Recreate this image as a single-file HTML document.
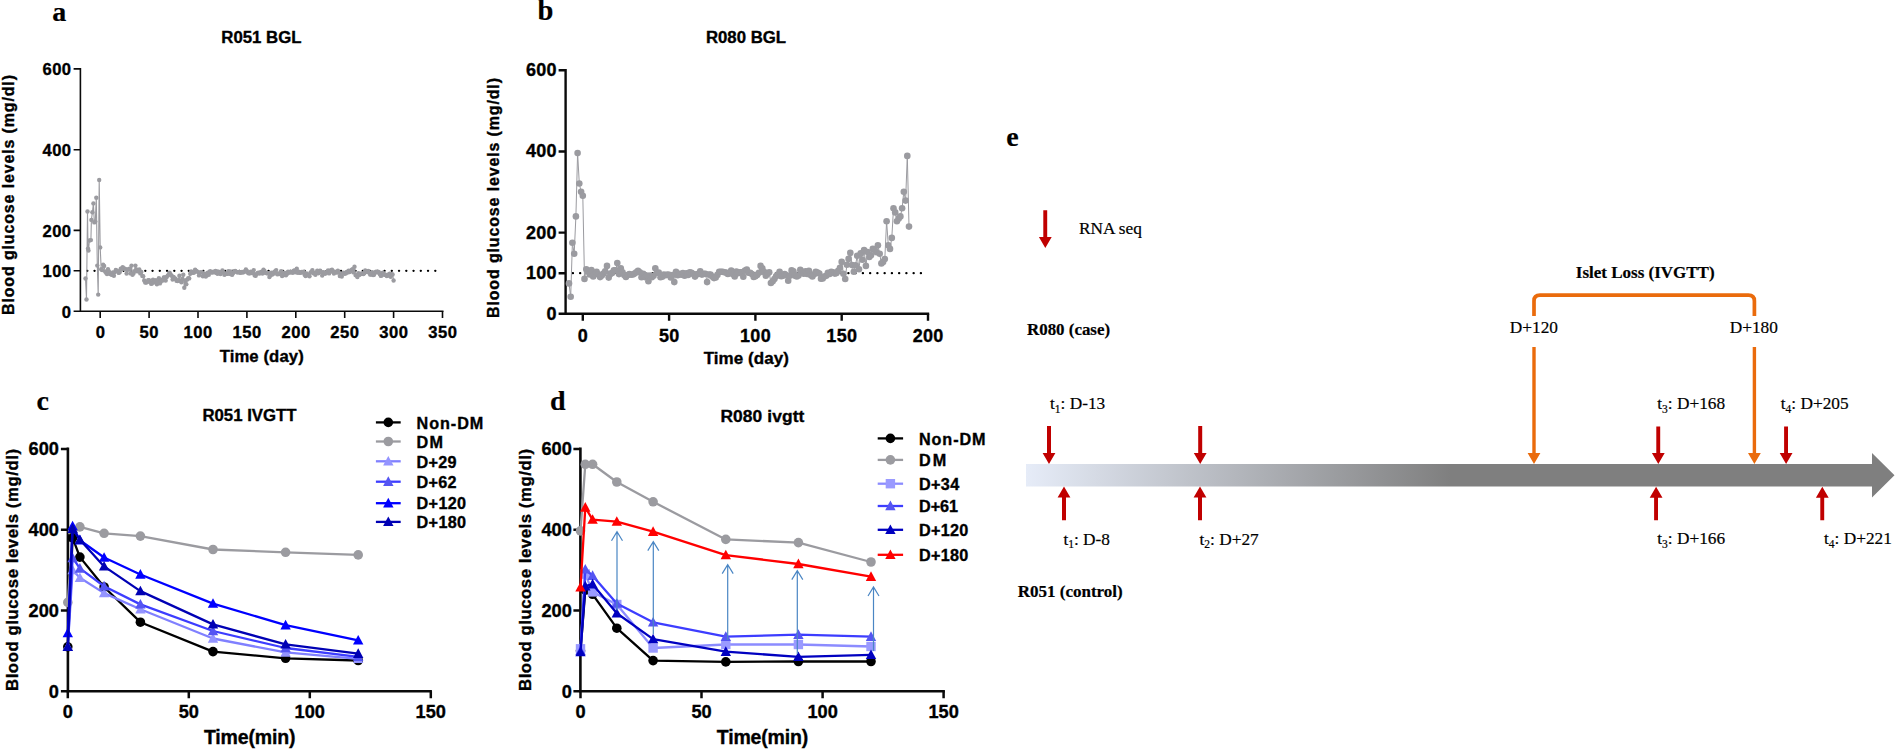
<!DOCTYPE html>
<html><head><meta charset="utf-8"><title>Figure</title>
<style>html,body{margin:0;padding:0;background:#fff}svg{display:block}text{fill:#000}</style></head>
<body><svg width="1895" height="749" viewBox="0 0 1895 749">
<rect width="1895" height="749" fill="#fff"/>
<text x="52.2" y="21.0" font-size="28" text-anchor="start" font-family="Liberation Serif, Times New Roman, serif" stroke="#000" stroke-width="0.2" font-weight="bold" >a</text>
<text x="261.4" y="43.2" font-size="16.8" text-anchor="middle" font-family="Liberation Sans, Arial, sans-serif" font-weight="bold" stroke="#000" stroke-width="0.35" >R051 BGL</text>
<path d="M80.4 68.1V312.0M79.6 311.2H443.5" stroke="#0a0a0a" stroke-width="1.6" fill="none"/>
<path d="M100.2 311.2v6.8M149.1 311.2v6.8M198.0 311.2v6.8M246.9 311.2v6.8M295.8 311.2v6.8M344.7 311.2v6.8M393.6 311.2v6.8M442.5 311.2v6.8M80.4 311.2h-6.8M80.4 270.8h-6.8M80.4 230.4h-6.8M80.4 149.7h-6.8M80.4 68.9h-6.8" stroke="#0a0a0a" stroke-width="1.6" fill="none"/>
<text x="100.5" y="337.8" font-size="16.6" text-anchor="middle" font-family="Liberation Sans, Arial, sans-serif" font-weight="bold" stroke="#000" stroke-width="0.35" letter-spacing="0.5">0</text>
<text x="149.3" y="337.8" font-size="16.6" text-anchor="middle" font-family="Liberation Sans, Arial, sans-serif" font-weight="bold" stroke="#000" stroke-width="0.35" letter-spacing="0.5">50</text>
<text x="198.2" y="337.8" font-size="16.6" text-anchor="middle" font-family="Liberation Sans, Arial, sans-serif" font-weight="bold" stroke="#000" stroke-width="0.35" letter-spacing="0.5">100</text>
<text x="247.1" y="337.8" font-size="16.6" text-anchor="middle" font-family="Liberation Sans, Arial, sans-serif" font-weight="bold" stroke="#000" stroke-width="0.35" letter-spacing="0.5">150</text>
<text x="296.1" y="337.8" font-size="16.6" text-anchor="middle" font-family="Liberation Sans, Arial, sans-serif" font-weight="bold" stroke="#000" stroke-width="0.35" letter-spacing="0.5">200</text>
<text x="344.9" y="337.8" font-size="16.6" text-anchor="middle" font-family="Liberation Sans, Arial, sans-serif" font-weight="bold" stroke="#000" stroke-width="0.35" letter-spacing="0.5">250</text>
<text x="393.8" y="337.8" font-size="16.6" text-anchor="middle" font-family="Liberation Sans, Arial, sans-serif" font-weight="bold" stroke="#000" stroke-width="0.35" letter-spacing="0.5">300</text>
<text x="442.8" y="337.8" font-size="16.6" text-anchor="middle" font-family="Liberation Sans, Arial, sans-serif" font-weight="bold" stroke="#000" stroke-width="0.35" letter-spacing="0.5">350</text>
<text x="71.6" y="317.5" font-size="16.6" text-anchor="end" font-family="Liberation Sans, Arial, sans-serif" font-weight="bold" stroke="#000" stroke-width="0.35" letter-spacing="0.5">0</text>
<text x="71.6" y="277.1" font-size="16.6" text-anchor="end" font-family="Liberation Sans, Arial, sans-serif" font-weight="bold" stroke="#000" stroke-width="0.35" letter-spacing="0.5">100</text>
<text x="71.6" y="236.7" font-size="16.6" text-anchor="end" font-family="Liberation Sans, Arial, sans-serif" font-weight="bold" stroke="#000" stroke-width="0.35" letter-spacing="0.5">200</text>
<text x="71.6" y="156.0" font-size="16.6" text-anchor="end" font-family="Liberation Sans, Arial, sans-serif" font-weight="bold" stroke="#000" stroke-width="0.35" letter-spacing="0.5">400</text>
<text x="71.6" y="75.2" font-size="16.6" text-anchor="end" font-family="Liberation Sans, Arial, sans-serif" font-weight="bold" stroke="#000" stroke-width="0.35" letter-spacing="0.5">600</text>
<text transform="translate(14.0,195.0) rotate(-90)" font-size="16" text-anchor="middle" font-family="Liberation Sans, Arial, sans-serif" font-weight="bold" stroke="#000" stroke-width="0.35" textLength="240" lengthAdjust="spacing">Blood glucose levels (mg/dl)</text>
<text x="261.7" y="361.7" font-size="16.7" text-anchor="middle" font-family="Liberation Sans, Arial, sans-serif" font-weight="bold" stroke="#000" stroke-width="0.35" textLength="84" lengthAdjust="spacing" >Time (day)</text>
<line x1="87.2" y1="270.8" x2="438.5" y2="270.8" stroke="#000" stroke-width="2.2" stroke-linecap="round" stroke-dasharray="0.2 7.05"/>
<polyline points="85.5,278.5 86.5,299.5 87.5,211.5 88.0,248.6 88.5,250.6 89.4,240.5 90.9,240.1 91.4,219.9 92.4,212.3 93.4,203.4 94.3,222.4 95.3,221.6 96.3,197.7 97.3,265.6 98.2,294.6 99.2,180.0 100.2,247.4 101.2,269.2 102.2,270.0 103.1,264.8 104.1,266.0 105.1,271.6 106.1,272.8 107.0,274.1 108.0,269.2 109.0,271.6 110.0,274.1 111.0,273.6 111.9,274.9 112.9,272.4 113.9,275.7 114.9,272.1 115.8,270.0 116.8,270.7 117.8,271.3 118.8,272.9 119.8,272.0 120.7,268.7 121.7,268.7 122.7,267.3 123.7,268.5 124.7,268.7 125.6,269.2 126.6,273.6 127.6,269.9 128.6,269.1 129.5,268.7 130.5,273.4 131.5,265.6 132.5,274.7 133.5,273.4 134.4,271.1 135.4,265.6 136.4,269.4 137.4,271.4 138.3,270.2 139.3,269.4 140.3,273.4 141.3,272.0 142.3,275.9 143.2,276.2 144.2,280.4 145.2,282.5 146.2,282.6 147.1,282.1 148.1,280.3 149.1,280.3 150.1,281.9 151.1,283.7 152.0,283.5 153.0,279.6 154.0,282.3 155.0,281.2 155.9,280.3 156.9,284.2 157.9,282.2 158.9,278.1 159.9,283.4 160.8,281.6 161.8,280.0 162.8,280.6 163.8,277.5 164.7,277.5 165.7,280.6 166.7,277.0 167.7,275.6 168.7,274.4 169.6,272.8 170.6,274.5 171.6,275.7 172.6,279.5 173.6,276.9 174.5,278.5 175.5,278.8 176.5,280.8 177.5,281.0 178.4,280.1 179.4,275.7 180.4,281.1 181.4,282.2 182.4,279.0 183.3,274.8 184.3,287.8 185.3,280.4 186.3,284.3 187.2,279.6 188.2,278.2 189.2,278.4 190.2,273.8 191.2,271.5 192.1,272.6 193.1,272.8 194.1,272.5 195.1,269.8 196.0,270.8 197.0,271.4 198.0,272.1 199.0,275.4 200.0,272.8 200.9,272.1 201.9,272.4 202.9,276.2 203.9,275.9 204.8,273.7 205.8,276.5 206.8,275.4 207.8,272.6 208.8,274.8 209.7,271.5 210.7,271.5 211.7,272.6 212.7,272.4 213.6,271.8 214.6,272.3 215.6,271.0 216.6,273.1 217.6,273.7 218.5,271.8 219.5,272.4 220.5,274.1 221.5,272.1 222.4,270.5 223.4,272.5 224.4,274.8 225.4,274.0 226.4,273.7 227.3,273.8 228.3,271.3 229.3,273.8 230.3,271.5 231.3,274.2 232.2,274.7 233.2,272.9 234.2,271.3 235.2,271.0 236.1,271.6 237.1,272.2 238.1,272.4 239.1,271.9 240.1,272.8 241.0,272.5 242.0,272.0 243.0,272.6 244.0,271.7 244.9,271.6 245.9,269.5 246.9,271.0 247.9,272.7 248.9,273.4 249.8,273.2 250.8,271.8 251.8,273.0 252.8,272.4 253.7,270.1 254.7,275.4 255.7,275.8 256.7,273.9 257.7,272.9 258.6,272.6 259.6,273.5 260.6,272.3 261.6,272.3 262.5,273.5 263.5,269.7 264.5,271.0 265.5,272.9 266.5,273.1 267.4,273.4 268.4,273.3 269.4,277.1 270.4,275.6 271.4,272.7 272.3,274.6 273.3,273.8 274.3,272.0 275.3,271.3 276.2,270.1 277.2,274.2 278.2,274.1 279.2,274.0 280.2,272.6 281.1,271.2 282.1,276.1 283.1,272.8 284.1,275.1 285.0,273.0 286.0,275.2 287.0,273.7 288.0,271.6 289.0,272.6 289.9,272.6 290.9,271.7 291.9,272.2 292.9,272.8 293.8,270.7 294.8,270.5 295.8,272.3 296.8,268.7 297.8,272.8 298.7,271.6 299.7,272.8 300.7,272.7 301.7,271.9 302.6,272.2 303.6,271.7 304.6,274.7 305.6,276.0 306.6,273.5 307.5,274.6 308.5,275.2 309.5,276.2 310.5,272.6 311.4,271.8 312.4,270.3 313.4,273.2 314.4,273.1 315.4,274.7 316.3,272.7 317.3,270.6 318.3,273.2 319.3,270.9 320.2,270.6 321.2,272.2 322.2,275.5 323.2,272.1 324.2,272.8 325.1,273.8 326.1,272.8 327.1,272.3 328.1,270.5 329.1,273.4 330.0,271.6 331.0,270.2 332.0,269.7 333.0,271.8 333.9,273.6 334.9,271.8 335.9,272.3 336.9,272.5 337.9,270.7 338.8,272.4 339.8,276.1 340.8,275.0 341.8,276.6 342.7,273.5 343.7,272.8 344.7,273.8 345.7,273.4 346.7,272.0 347.6,272.5 348.6,270.8 349.6,272.1 350.6,271.1 351.5,270.0 352.5,269.3 353.5,272.4 354.5,266.8 355.5,275.1 356.4,275.5 357.4,277.0 358.4,273.3 359.4,274.9 360.3,273.9 361.3,273.7 362.3,273.4 363.3,274.1 364.3,273.2 365.2,270.5 366.2,271.8 367.2,271.7 368.2,271.0 369.1,272.4 370.1,274.6 371.1,274.5 372.1,272.2 373.1,275.0 374.0,274.8 375.0,272.4 376.0,271.6 377.0,272.4 378.0,271.6 378.9,272.1 379.9,274.3 380.9,275.9 381.9,275.3 382.8,272.7 383.8,273.7 384.8,274.7 385.8,274.9 386.8,276.1 387.7,274.6 388.7,275.5 389.7,273.6 390.7,276.7 391.6,274.2 392.6,274.5 393.6,280.5" fill="none" stroke="#9b9ba0" stroke-width="1.1"/>
<g fill="#9b9ba0"><circle cx="85.5" cy="278.5" r="2.2"/><circle cx="86.5" cy="299.5" r="2.2"/><circle cx="87.5" cy="211.5" r="2.2"/><circle cx="88.0" cy="248.6" r="2.2"/><circle cx="88.5" cy="250.6" r="2.2"/><circle cx="89.4" cy="240.5" r="2.2"/><circle cx="90.9" cy="240.1" r="2.2"/><circle cx="91.4" cy="219.9" r="2.2"/><circle cx="92.4" cy="212.3" r="2.2"/><circle cx="93.4" cy="203.4" r="2.2"/><circle cx="94.3" cy="222.4" r="2.2"/><circle cx="95.3" cy="221.6" r="2.2"/><circle cx="96.3" cy="197.7" r="2.2"/><circle cx="97.3" cy="265.6" r="2.2"/><circle cx="98.2" cy="294.6" r="2.2"/><circle cx="99.2" cy="180.0" r="2.2"/><circle cx="100.2" cy="247.4" r="2.2"/><circle cx="101.2" cy="269.2" r="2.2"/><circle cx="102.2" cy="270.0" r="2.2"/><circle cx="103.1" cy="264.8" r="2.2"/><circle cx="104.1" cy="266.0" r="2.2"/><circle cx="105.1" cy="271.6" r="2.2"/><circle cx="106.1" cy="272.8" r="2.2"/><circle cx="107.0" cy="274.1" r="2.2"/><circle cx="108.0" cy="269.2" r="2.2"/><circle cx="109.0" cy="271.6" r="2.2"/><circle cx="110.0" cy="274.1" r="2.2"/><circle cx="111.0" cy="273.6" r="2.2"/><circle cx="111.9" cy="274.9" r="2.2"/><circle cx="112.9" cy="272.4" r="2.2"/><circle cx="113.9" cy="275.7" r="2.2"/><circle cx="114.9" cy="272.1" r="2.2"/><circle cx="115.8" cy="270.0" r="2.2"/><circle cx="116.8" cy="270.7" r="2.2"/><circle cx="117.8" cy="271.3" r="2.2"/><circle cx="118.8" cy="272.9" r="2.2"/><circle cx="119.8" cy="272.0" r="2.2"/><circle cx="120.7" cy="268.7" r="2.2"/><circle cx="121.7" cy="268.7" r="2.2"/><circle cx="122.7" cy="267.3" r="2.2"/><circle cx="123.7" cy="268.5" r="2.2"/><circle cx="124.7" cy="268.7" r="2.2"/><circle cx="125.6" cy="269.2" r="2.2"/><circle cx="126.6" cy="273.6" r="2.2"/><circle cx="127.6" cy="269.9" r="2.2"/><circle cx="128.6" cy="269.1" r="2.2"/><circle cx="129.5" cy="268.7" r="2.2"/><circle cx="130.5" cy="273.4" r="2.2"/><circle cx="131.5" cy="265.6" r="2.2"/><circle cx="132.5" cy="274.7" r="2.2"/><circle cx="133.5" cy="273.4" r="2.2"/><circle cx="134.4" cy="271.1" r="2.2"/><circle cx="135.4" cy="265.6" r="2.2"/><circle cx="136.4" cy="269.4" r="2.2"/><circle cx="137.4" cy="271.4" r="2.2"/><circle cx="138.3" cy="270.2" r="2.2"/><circle cx="139.3" cy="269.4" r="2.2"/><circle cx="140.3" cy="273.4" r="2.2"/><circle cx="141.3" cy="272.0" r="2.2"/><circle cx="142.3" cy="275.9" r="2.2"/><circle cx="143.2" cy="276.2" r="2.2"/><circle cx="144.2" cy="280.4" r="2.2"/><circle cx="145.2" cy="282.5" r="2.2"/><circle cx="146.2" cy="282.6" r="2.2"/><circle cx="147.1" cy="282.1" r="2.2"/><circle cx="148.1" cy="280.3" r="2.2"/><circle cx="149.1" cy="280.3" r="2.2"/><circle cx="150.1" cy="281.9" r="2.2"/><circle cx="151.1" cy="283.7" r="2.2"/><circle cx="152.0" cy="283.5" r="2.2"/><circle cx="153.0" cy="279.6" r="2.2"/><circle cx="154.0" cy="282.3" r="2.2"/><circle cx="155.0" cy="281.2" r="2.2"/><circle cx="155.9" cy="280.3" r="2.2"/><circle cx="156.9" cy="284.2" r="2.2"/><circle cx="157.9" cy="282.2" r="2.2"/><circle cx="158.9" cy="278.1" r="2.2"/><circle cx="159.9" cy="283.4" r="2.2"/><circle cx="160.8" cy="281.6" r="2.2"/><circle cx="161.8" cy="280.0" r="2.2"/><circle cx="162.8" cy="280.6" r="2.2"/><circle cx="163.8" cy="277.5" r="2.2"/><circle cx="164.7" cy="277.5" r="2.2"/><circle cx="165.7" cy="280.6" r="2.2"/><circle cx="166.7" cy="277.0" r="2.2"/><circle cx="167.7" cy="275.6" r="2.2"/><circle cx="168.7" cy="274.4" r="2.2"/><circle cx="169.6" cy="272.8" r="2.2"/><circle cx="170.6" cy="274.5" r="2.2"/><circle cx="171.6" cy="275.7" r="2.2"/><circle cx="172.6" cy="279.5" r="2.2"/><circle cx="173.6" cy="276.9" r="2.2"/><circle cx="174.5" cy="278.5" r="2.2"/><circle cx="175.5" cy="278.8" r="2.2"/><circle cx="176.5" cy="280.8" r="2.2"/><circle cx="177.5" cy="281.0" r="2.2"/><circle cx="178.4" cy="280.1" r="2.2"/><circle cx="179.4" cy="275.7" r="2.2"/><circle cx="180.4" cy="281.1" r="2.2"/><circle cx="181.4" cy="282.2" r="2.2"/><circle cx="182.4" cy="279.0" r="2.2"/><circle cx="183.3" cy="274.8" r="2.2"/><circle cx="184.3" cy="287.8" r="2.2"/><circle cx="185.3" cy="280.4" r="2.2"/><circle cx="186.3" cy="284.3" r="2.2"/><circle cx="187.2" cy="279.6" r="2.2"/><circle cx="188.2" cy="278.2" r="2.2"/><circle cx="189.2" cy="278.4" r="2.2"/><circle cx="190.2" cy="273.8" r="2.2"/><circle cx="191.2" cy="271.5" r="2.2"/><circle cx="192.1" cy="272.6" r="2.2"/><circle cx="193.1" cy="272.8" r="2.2"/><circle cx="194.1" cy="272.5" r="2.2"/><circle cx="195.1" cy="269.8" r="2.2"/><circle cx="196.0" cy="270.8" r="2.2"/><circle cx="197.0" cy="271.4" r="2.2"/><circle cx="198.0" cy="272.1" r="2.2"/><circle cx="199.0" cy="275.4" r="2.2"/><circle cx="200.0" cy="272.8" r="2.2"/><circle cx="200.9" cy="272.1" r="2.2"/><circle cx="201.9" cy="272.4" r="2.2"/><circle cx="202.9" cy="276.2" r="2.2"/><circle cx="203.9" cy="275.9" r="2.2"/><circle cx="204.8" cy="273.7" r="2.2"/><circle cx="205.8" cy="276.5" r="2.2"/><circle cx="206.8" cy="275.4" r="2.2"/><circle cx="207.8" cy="272.6" r="2.2"/><circle cx="208.8" cy="274.8" r="2.2"/><circle cx="209.7" cy="271.5" r="2.2"/><circle cx="210.7" cy="271.5" r="2.2"/><circle cx="211.7" cy="272.6" r="2.2"/><circle cx="212.7" cy="272.4" r="2.2"/><circle cx="213.6" cy="271.8" r="2.2"/><circle cx="214.6" cy="272.3" r="2.2"/><circle cx="215.6" cy="271.0" r="2.2"/><circle cx="216.6" cy="273.1" r="2.2"/><circle cx="217.6" cy="273.7" r="2.2"/><circle cx="218.5" cy="271.8" r="2.2"/><circle cx="219.5" cy="272.4" r="2.2"/><circle cx="220.5" cy="274.1" r="2.2"/><circle cx="221.5" cy="272.1" r="2.2"/><circle cx="222.4" cy="270.5" r="2.2"/><circle cx="223.4" cy="272.5" r="2.2"/><circle cx="224.4" cy="274.8" r="2.2"/><circle cx="225.4" cy="274.0" r="2.2"/><circle cx="226.4" cy="273.7" r="2.2"/><circle cx="227.3" cy="273.8" r="2.2"/><circle cx="228.3" cy="271.3" r="2.2"/><circle cx="229.3" cy="273.8" r="2.2"/><circle cx="230.3" cy="271.5" r="2.2"/><circle cx="231.3" cy="274.2" r="2.2"/><circle cx="232.2" cy="274.7" r="2.2"/><circle cx="233.2" cy="272.9" r="2.2"/><circle cx="234.2" cy="271.3" r="2.2"/><circle cx="235.2" cy="271.0" r="2.2"/><circle cx="236.1" cy="271.6" r="2.2"/><circle cx="237.1" cy="272.2" r="2.2"/><circle cx="238.1" cy="272.4" r="2.2"/><circle cx="239.1" cy="271.9" r="2.2"/><circle cx="240.1" cy="272.8" r="2.2"/><circle cx="241.0" cy="272.5" r="2.2"/><circle cx="242.0" cy="272.0" r="2.2"/><circle cx="243.0" cy="272.6" r="2.2"/><circle cx="244.0" cy="271.7" r="2.2"/><circle cx="244.9" cy="271.6" r="2.2"/><circle cx="245.9" cy="269.5" r="2.2"/><circle cx="246.9" cy="271.0" r="2.2"/><circle cx="247.9" cy="272.7" r="2.2"/><circle cx="248.9" cy="273.4" r="2.2"/><circle cx="249.8" cy="273.2" r="2.2"/><circle cx="250.8" cy="271.8" r="2.2"/><circle cx="251.8" cy="273.0" r="2.2"/><circle cx="252.8" cy="272.4" r="2.2"/><circle cx="253.7" cy="270.1" r="2.2"/><circle cx="254.7" cy="275.4" r="2.2"/><circle cx="255.7" cy="275.8" r="2.2"/><circle cx="256.7" cy="273.9" r="2.2"/><circle cx="257.7" cy="272.9" r="2.2"/><circle cx="258.6" cy="272.6" r="2.2"/><circle cx="259.6" cy="273.5" r="2.2"/><circle cx="260.6" cy="272.3" r="2.2"/><circle cx="261.6" cy="272.3" r="2.2"/><circle cx="262.5" cy="273.5" r="2.2"/><circle cx="263.5" cy="269.7" r="2.2"/><circle cx="264.5" cy="271.0" r="2.2"/><circle cx="265.5" cy="272.9" r="2.2"/><circle cx="266.5" cy="273.1" r="2.2"/><circle cx="267.4" cy="273.4" r="2.2"/><circle cx="268.4" cy="273.3" r="2.2"/><circle cx="269.4" cy="277.1" r="2.2"/><circle cx="270.4" cy="275.6" r="2.2"/><circle cx="271.4" cy="272.7" r="2.2"/><circle cx="272.3" cy="274.6" r="2.2"/><circle cx="273.3" cy="273.8" r="2.2"/><circle cx="274.3" cy="272.0" r="2.2"/><circle cx="275.3" cy="271.3" r="2.2"/><circle cx="276.2" cy="270.1" r="2.2"/><circle cx="277.2" cy="274.2" r="2.2"/><circle cx="278.2" cy="274.1" r="2.2"/><circle cx="279.2" cy="274.0" r="2.2"/><circle cx="280.2" cy="272.6" r="2.2"/><circle cx="281.1" cy="271.2" r="2.2"/><circle cx="282.1" cy="276.1" r="2.2"/><circle cx="283.1" cy="272.8" r="2.2"/><circle cx="284.1" cy="275.1" r="2.2"/><circle cx="285.0" cy="273.0" r="2.2"/><circle cx="286.0" cy="275.2" r="2.2"/><circle cx="287.0" cy="273.7" r="2.2"/><circle cx="288.0" cy="271.6" r="2.2"/><circle cx="289.0" cy="272.6" r="2.2"/><circle cx="289.9" cy="272.6" r="2.2"/><circle cx="290.9" cy="271.7" r="2.2"/><circle cx="291.9" cy="272.2" r="2.2"/><circle cx="292.9" cy="272.8" r="2.2"/><circle cx="293.8" cy="270.7" r="2.2"/><circle cx="294.8" cy="270.5" r="2.2"/><circle cx="295.8" cy="272.3" r="2.2"/><circle cx="296.8" cy="268.7" r="2.2"/><circle cx="297.8" cy="272.8" r="2.2"/><circle cx="298.7" cy="271.6" r="2.2"/><circle cx="299.7" cy="272.8" r="2.2"/><circle cx="300.7" cy="272.7" r="2.2"/><circle cx="301.7" cy="271.9" r="2.2"/><circle cx="302.6" cy="272.2" r="2.2"/><circle cx="303.6" cy="271.7" r="2.2"/><circle cx="304.6" cy="274.7" r="2.2"/><circle cx="305.6" cy="276.0" r="2.2"/><circle cx="306.6" cy="273.5" r="2.2"/><circle cx="307.5" cy="274.6" r="2.2"/><circle cx="308.5" cy="275.2" r="2.2"/><circle cx="309.5" cy="276.2" r="2.2"/><circle cx="310.5" cy="272.6" r="2.2"/><circle cx="311.4" cy="271.8" r="2.2"/><circle cx="312.4" cy="270.3" r="2.2"/><circle cx="313.4" cy="273.2" r="2.2"/><circle cx="314.4" cy="273.1" r="2.2"/><circle cx="315.4" cy="274.7" r="2.2"/><circle cx="316.3" cy="272.7" r="2.2"/><circle cx="317.3" cy="270.6" r="2.2"/><circle cx="318.3" cy="273.2" r="2.2"/><circle cx="319.3" cy="270.9" r="2.2"/><circle cx="320.2" cy="270.6" r="2.2"/><circle cx="321.2" cy="272.2" r="2.2"/><circle cx="322.2" cy="275.5" r="2.2"/><circle cx="323.2" cy="272.1" r="2.2"/><circle cx="324.2" cy="272.8" r="2.2"/><circle cx="325.1" cy="273.8" r="2.2"/><circle cx="326.1" cy="272.8" r="2.2"/><circle cx="327.1" cy="272.3" r="2.2"/><circle cx="328.1" cy="270.5" r="2.2"/><circle cx="329.1" cy="273.4" r="2.2"/><circle cx="330.0" cy="271.6" r="2.2"/><circle cx="331.0" cy="270.2" r="2.2"/><circle cx="332.0" cy="269.7" r="2.2"/><circle cx="333.0" cy="271.8" r="2.2"/><circle cx="333.9" cy="273.6" r="2.2"/><circle cx="334.9" cy="271.8" r="2.2"/><circle cx="335.9" cy="272.3" r="2.2"/><circle cx="336.9" cy="272.5" r="2.2"/><circle cx="337.9" cy="270.7" r="2.2"/><circle cx="338.8" cy="272.4" r="2.2"/><circle cx="339.8" cy="276.1" r="2.2"/><circle cx="340.8" cy="275.0" r="2.2"/><circle cx="341.8" cy="276.6" r="2.2"/><circle cx="342.7" cy="273.5" r="2.2"/><circle cx="343.7" cy="272.8" r="2.2"/><circle cx="344.7" cy="273.8" r="2.2"/><circle cx="345.7" cy="273.4" r="2.2"/><circle cx="346.7" cy="272.0" r="2.2"/><circle cx="347.6" cy="272.5" r="2.2"/><circle cx="348.6" cy="270.8" r="2.2"/><circle cx="349.6" cy="272.1" r="2.2"/><circle cx="350.6" cy="271.1" r="2.2"/><circle cx="351.5" cy="270.0" r="2.2"/><circle cx="352.5" cy="269.3" r="2.2"/><circle cx="353.5" cy="272.4" r="2.2"/><circle cx="354.5" cy="266.8" r="2.2"/><circle cx="355.5" cy="275.1" r="2.2"/><circle cx="356.4" cy="275.5" r="2.2"/><circle cx="357.4" cy="277.0" r="2.2"/><circle cx="358.4" cy="273.3" r="2.2"/><circle cx="359.4" cy="274.9" r="2.2"/><circle cx="360.3" cy="273.9" r="2.2"/><circle cx="361.3" cy="273.7" r="2.2"/><circle cx="362.3" cy="273.4" r="2.2"/><circle cx="363.3" cy="274.1" r="2.2"/><circle cx="364.3" cy="273.2" r="2.2"/><circle cx="365.2" cy="270.5" r="2.2"/><circle cx="366.2" cy="271.8" r="2.2"/><circle cx="367.2" cy="271.7" r="2.2"/><circle cx="368.2" cy="271.0" r="2.2"/><circle cx="369.1" cy="272.4" r="2.2"/><circle cx="370.1" cy="274.6" r="2.2"/><circle cx="371.1" cy="274.5" r="2.2"/><circle cx="372.1" cy="272.2" r="2.2"/><circle cx="373.1" cy="275.0" r="2.2"/><circle cx="374.0" cy="274.8" r="2.2"/><circle cx="375.0" cy="272.4" r="2.2"/><circle cx="376.0" cy="271.6" r="2.2"/><circle cx="377.0" cy="272.4" r="2.2"/><circle cx="378.0" cy="271.6" r="2.2"/><circle cx="378.9" cy="272.1" r="2.2"/><circle cx="379.9" cy="274.3" r="2.2"/><circle cx="380.9" cy="275.9" r="2.2"/><circle cx="381.9" cy="275.3" r="2.2"/><circle cx="382.8" cy="272.7" r="2.2"/><circle cx="383.8" cy="273.7" r="2.2"/><circle cx="384.8" cy="274.7" r="2.2"/><circle cx="385.8" cy="274.9" r="2.2"/><circle cx="386.8" cy="276.1" r="2.2"/><circle cx="387.7" cy="274.6" r="2.2"/><circle cx="388.7" cy="275.5" r="2.2"/><circle cx="389.7" cy="273.6" r="2.2"/><circle cx="390.7" cy="276.7" r="2.2"/><circle cx="391.6" cy="274.2" r="2.2"/><circle cx="392.6" cy="274.5" r="2.2"/><circle cx="393.6" cy="280.5" r="2.2"/></g>
<text x="537.5" y="20.2" font-size="28.5" text-anchor="start" font-family="Liberation Serif, Times New Roman, serif" stroke="#000" stroke-width="0.2" font-weight="bold" >b</text>
<text x="746.0" y="42.8" font-size="16.8" text-anchor="middle" font-family="Liberation Sans, Arial, sans-serif" font-weight="bold" stroke="#000" stroke-width="0.35" >R080 BGL</text>
<path d="M565.6 69.1V315.0M564.4 313.8H929.2" stroke="#0a0a0a" stroke-width="2.4" fill="none"/>
<path d="M582.8 313.8v7.0M669.1 313.8v7.0M755.4 313.8v7.0M841.7 313.8v7.0M928.0 313.8v7.0M565.6 313.8h-7.0M565.6 273.2h-7.0M565.6 232.6h-7.0M565.6 151.5h-7.0M565.6 70.3h-7.0" stroke="#0a0a0a" stroke-width="2.4" fill="none"/>
<text x="582.9" y="341.7" font-size="18" text-anchor="middle" font-family="Liberation Sans, Arial, sans-serif" font-weight="bold" stroke="#000" stroke-width="0.35" letter-spacing="0.3">0</text>
<text x="669.2" y="341.7" font-size="18" text-anchor="middle" font-family="Liberation Sans, Arial, sans-serif" font-weight="bold" stroke="#000" stroke-width="0.35" letter-spacing="0.3">50</text>
<text x="755.5" y="341.7" font-size="18" text-anchor="middle" font-family="Liberation Sans, Arial, sans-serif" font-weight="bold" stroke="#000" stroke-width="0.35" letter-spacing="0.3">100</text>
<text x="841.8" y="341.7" font-size="18" text-anchor="middle" font-family="Liberation Sans, Arial, sans-serif" font-weight="bold" stroke="#000" stroke-width="0.35" letter-spacing="0.3">150</text>
<text x="928.1" y="341.7" font-size="18" text-anchor="middle" font-family="Liberation Sans, Arial, sans-serif" font-weight="bold" stroke="#000" stroke-width="0.35" letter-spacing="0.3">200</text>
<text x="556.9" y="319.7" font-size="18" text-anchor="end" font-family="Liberation Sans, Arial, sans-serif" font-weight="bold" stroke="#000" stroke-width="0.35" letter-spacing="0.3">0</text>
<text x="556.9" y="279.1" font-size="18" text-anchor="end" font-family="Liberation Sans, Arial, sans-serif" font-weight="bold" stroke="#000" stroke-width="0.35" letter-spacing="0.3">100</text>
<text x="556.9" y="238.5" font-size="18" text-anchor="end" font-family="Liberation Sans, Arial, sans-serif" font-weight="bold" stroke="#000" stroke-width="0.35" letter-spacing="0.3">200</text>
<text x="556.9" y="157.4" font-size="18" text-anchor="end" font-family="Liberation Sans, Arial, sans-serif" font-weight="bold" stroke="#000" stroke-width="0.35" letter-spacing="0.3">400</text>
<text x="556.9" y="76.2" font-size="18" text-anchor="end" font-family="Liberation Sans, Arial, sans-serif" font-weight="bold" stroke="#000" stroke-width="0.35" letter-spacing="0.3">600</text>
<text transform="translate(498.5,198.0) rotate(-90)" font-size="16" text-anchor="middle" font-family="Liberation Sans, Arial, sans-serif" font-weight="bold" stroke="#000" stroke-width="0.35" textLength="240" lengthAdjust="spacing">Blood glucose levels (mg/dl)</text>
<text x="746.3" y="364.4" font-size="17" text-anchor="middle" font-family="Liberation Sans, Arial, sans-serif" font-weight="bold" stroke="#000" stroke-width="0.35" textLength="85.3" lengthAdjust="spacing" >Time (day)</text>
<line x1="572.8" y1="273.2" x2="923.5" y2="273.2" stroke="#000" stroke-width="2.2" stroke-linecap="round" stroke-dasharray="0.2 7.05"/>
<polyline points="569.0,283.4 570.7,296.8 572.4,242.8 574.2,253.7 575.9,216.4 577.6,153.1 579.3,183.5 581.1,191.7 582.8,195.7 584.5,278.9 586.3,269.2 588.0,271.6 589.7,274.4 591.4,270.0 593.2,276.4 594.9,274.2 596.6,271.9 598.3,274.3 600.1,277.1 601.8,275.4 603.5,273.5 605.2,271.4 607.0,265.9 608.7,277.6 610.4,273.9 612.1,272.9 613.9,270.2 615.6,270.3 617.3,263.1 619.0,274.1 620.8,268.3 622.5,272.4 624.2,275.1 625.9,277.0 627.7,275.0 629.4,274.1 631.1,274.8 632.9,274.5 634.6,273.6 636.3,272.3 638.0,270.9 639.8,272.3 641.5,277.3 643.2,273.8 644.9,277.1 646.7,275.6 648.4,281.3 650.1,275.6 651.8,277.2 653.6,275.7 655.3,268.2 657.0,272.7 658.7,272.5 660.5,277.2 662.2,276.8 663.9,274.5 665.6,275.3 667.4,274.6 669.1,274.9 670.8,277.5 672.6,275.0 674.3,282.1 676.0,271.9 677.7,275.2 679.5,273.8 681.2,274.8 682.9,273.1 684.6,275.8 686.4,273.4 688.1,274.9 689.8,272.4 691.5,272.8 693.3,274.1 695.0,276.6 696.7,274.2 698.4,273.9 700.2,271.2 701.9,274.6 703.6,273.9 705.3,273.7 707.1,282.1 708.8,274.5 710.5,274.6 712.2,276.5 714.0,278.1 715.7,277.4 717.4,274.9 719.2,271.9 720.9,271.8 722.6,271.7 724.3,272.2 726.1,272.6 727.8,273.9 729.5,273.1 731.2,270.6 733.0,274.2 734.7,276.5 736.4,271.5 738.1,273.3 739.9,272.4 741.6,272.3 743.3,276.7 745.0,270.5 746.8,269.5 748.5,272.7 750.2,272.7 751.9,274.1 753.7,276.9 755.4,276.3 757.1,274.9 758.9,272.8 760.6,265.9 762.3,268.4 764.0,271.9 765.8,275.7 767.5,273.8 769.2,272.3 770.9,283.0 772.7,281.3 774.4,279.0 776.1,276.3 777.8,274.6 779.6,271.7 781.3,276.2 783.0,275.7 784.7,274.1 786.5,275.3 788.2,280.7 789.9,275.7 791.6,270.4 793.4,271.2 795.1,275.8 796.8,276.5 798.5,275.4 800.3,269.9 802.0,271.8 803.7,273.8 805.5,271.3 807.2,274.0 808.9,270.7 810.6,275.1 812.4,276.4 814.1,274.2 815.8,271.8 817.5,272.5 819.3,273.6 821.0,278.8 822.7,278.4 824.4,276.6 826.2,275.8 827.9,272.9 829.6,273.9 831.3,271.7 833.1,272.4 834.8,273.6 836.5,273.1 838.2,270.9 840.0,267.8 841.7,261.9 843.4,273.8 845.2,279.0 846.9,264.7 848.6,258.9 850.3,252.9 852.1,265.1 853.8,271.8 855.5,265.3 857.2,255.8 859.0,269.2 860.7,253.4 862.4,259.8 864.1,250.1 865.9,265.9 867.6,252.1 869.3,257.0 871.0,255.2 872.8,248.9 874.5,249.7 876.2,252.1 877.9,245.2 879.7,253.7 881.4,263.4 883.1,261.9 884.8,259.0 886.6,221.3 888.3,245.2 890.0,248.9 891.8,237.9 893.5,208.3 895.2,212.4 896.9,221.3 898.7,218.4 900.4,216.4 902.1,208.3 903.8,191.7 905.6,200.6 907.3,155.9 909.0,226.6" fill="none" stroke="#9b9ba0" stroke-width="1"/>
<g fill="#9b9ba0"><circle cx="569.0" cy="283.4" r="3.3"/><circle cx="570.7" cy="296.8" r="3.3"/><circle cx="572.4" cy="242.8" r="3.3"/><circle cx="574.2" cy="253.7" r="3.3"/><circle cx="575.9" cy="216.4" r="3.3"/><circle cx="577.6" cy="153.1" r="3.3"/><circle cx="579.3" cy="183.5" r="3.3"/><circle cx="581.1" cy="191.7" r="3.3"/><circle cx="582.8" cy="195.7" r="3.3"/><circle cx="584.5" cy="278.9" r="3.3"/><circle cx="586.3" cy="269.2" r="3.3"/><circle cx="588.0" cy="271.6" r="3.3"/><circle cx="589.7" cy="274.4" r="3.3"/><circle cx="591.4" cy="270.0" r="3.3"/><circle cx="593.2" cy="276.4" r="3.3"/><circle cx="594.9" cy="274.2" r="3.3"/><circle cx="596.6" cy="271.9" r="3.3"/><circle cx="598.3" cy="274.3" r="3.3"/><circle cx="600.1" cy="277.1" r="3.3"/><circle cx="601.8" cy="275.4" r="3.3"/><circle cx="603.5" cy="273.5" r="3.3"/><circle cx="605.2" cy="271.4" r="3.3"/><circle cx="607.0" cy="265.9" r="3.3"/><circle cx="608.7" cy="277.6" r="3.3"/><circle cx="610.4" cy="273.9" r="3.3"/><circle cx="612.1" cy="272.9" r="3.3"/><circle cx="613.9" cy="270.2" r="3.3"/><circle cx="615.6" cy="270.3" r="3.3"/><circle cx="617.3" cy="263.1" r="3.3"/><circle cx="619.0" cy="274.1" r="3.3"/><circle cx="620.8" cy="268.3" r="3.3"/><circle cx="622.5" cy="272.4" r="3.3"/><circle cx="624.2" cy="275.1" r="3.3"/><circle cx="625.9" cy="277.0" r="3.3"/><circle cx="627.7" cy="275.0" r="3.3"/><circle cx="629.4" cy="274.1" r="3.3"/><circle cx="631.1" cy="274.8" r="3.3"/><circle cx="632.9" cy="274.5" r="3.3"/><circle cx="634.6" cy="273.6" r="3.3"/><circle cx="636.3" cy="272.3" r="3.3"/><circle cx="638.0" cy="270.9" r="3.3"/><circle cx="639.8" cy="272.3" r="3.3"/><circle cx="641.5" cy="277.3" r="3.3"/><circle cx="643.2" cy="273.8" r="3.3"/><circle cx="644.9" cy="277.1" r="3.3"/><circle cx="646.7" cy="275.6" r="3.3"/><circle cx="648.4" cy="281.3" r="3.3"/><circle cx="650.1" cy="275.6" r="3.3"/><circle cx="651.8" cy="277.2" r="3.3"/><circle cx="653.6" cy="275.7" r="3.3"/><circle cx="655.3" cy="268.2" r="3.3"/><circle cx="657.0" cy="272.7" r="3.3"/><circle cx="658.7" cy="272.5" r="3.3"/><circle cx="660.5" cy="277.2" r="3.3"/><circle cx="662.2" cy="276.8" r="3.3"/><circle cx="663.9" cy="274.5" r="3.3"/><circle cx="665.6" cy="275.3" r="3.3"/><circle cx="667.4" cy="274.6" r="3.3"/><circle cx="669.1" cy="274.9" r="3.3"/><circle cx="670.8" cy="277.5" r="3.3"/><circle cx="672.6" cy="275.0" r="3.3"/><circle cx="674.3" cy="282.1" r="3.3"/><circle cx="676.0" cy="271.9" r="3.3"/><circle cx="677.7" cy="275.2" r="3.3"/><circle cx="679.5" cy="273.8" r="3.3"/><circle cx="681.2" cy="274.8" r="3.3"/><circle cx="682.9" cy="273.1" r="3.3"/><circle cx="684.6" cy="275.8" r="3.3"/><circle cx="686.4" cy="273.4" r="3.3"/><circle cx="688.1" cy="274.9" r="3.3"/><circle cx="689.8" cy="272.4" r="3.3"/><circle cx="691.5" cy="272.8" r="3.3"/><circle cx="693.3" cy="274.1" r="3.3"/><circle cx="695.0" cy="276.6" r="3.3"/><circle cx="696.7" cy="274.2" r="3.3"/><circle cx="698.4" cy="273.9" r="3.3"/><circle cx="700.2" cy="271.2" r="3.3"/><circle cx="701.9" cy="274.6" r="3.3"/><circle cx="703.6" cy="273.9" r="3.3"/><circle cx="705.3" cy="273.7" r="3.3"/><circle cx="707.1" cy="282.1" r="3.3"/><circle cx="708.8" cy="274.5" r="3.3"/><circle cx="710.5" cy="274.6" r="3.3"/><circle cx="712.2" cy="276.5" r="3.3"/><circle cx="714.0" cy="278.1" r="3.3"/><circle cx="715.7" cy="277.4" r="3.3"/><circle cx="717.4" cy="274.9" r="3.3"/><circle cx="719.2" cy="271.9" r="3.3"/><circle cx="720.9" cy="271.8" r="3.3"/><circle cx="722.6" cy="271.7" r="3.3"/><circle cx="724.3" cy="272.2" r="3.3"/><circle cx="726.1" cy="272.6" r="3.3"/><circle cx="727.8" cy="273.9" r="3.3"/><circle cx="729.5" cy="273.1" r="3.3"/><circle cx="731.2" cy="270.6" r="3.3"/><circle cx="733.0" cy="274.2" r="3.3"/><circle cx="734.7" cy="276.5" r="3.3"/><circle cx="736.4" cy="271.5" r="3.3"/><circle cx="738.1" cy="273.3" r="3.3"/><circle cx="739.9" cy="272.4" r="3.3"/><circle cx="741.6" cy="272.3" r="3.3"/><circle cx="743.3" cy="276.7" r="3.3"/><circle cx="745.0" cy="270.5" r="3.3"/><circle cx="746.8" cy="269.5" r="3.3"/><circle cx="748.5" cy="272.7" r="3.3"/><circle cx="750.2" cy="272.7" r="3.3"/><circle cx="751.9" cy="274.1" r="3.3"/><circle cx="753.7" cy="276.9" r="3.3"/><circle cx="755.4" cy="276.3" r="3.3"/><circle cx="757.1" cy="274.9" r="3.3"/><circle cx="758.9" cy="272.8" r="3.3"/><circle cx="760.6" cy="265.9" r="3.3"/><circle cx="762.3" cy="268.4" r="3.3"/><circle cx="764.0" cy="271.9" r="3.3"/><circle cx="765.8" cy="275.7" r="3.3"/><circle cx="767.5" cy="273.8" r="3.3"/><circle cx="769.2" cy="272.3" r="3.3"/><circle cx="770.9" cy="283.0" r="3.3"/><circle cx="772.7" cy="281.3" r="3.3"/><circle cx="774.4" cy="279.0" r="3.3"/><circle cx="776.1" cy="276.3" r="3.3"/><circle cx="777.8" cy="274.6" r="3.3"/><circle cx="779.6" cy="271.7" r="3.3"/><circle cx="781.3" cy="276.2" r="3.3"/><circle cx="783.0" cy="275.7" r="3.3"/><circle cx="784.7" cy="274.1" r="3.3"/><circle cx="786.5" cy="275.3" r="3.3"/><circle cx="788.2" cy="280.7" r="3.3"/><circle cx="789.9" cy="275.7" r="3.3"/><circle cx="791.6" cy="270.4" r="3.3"/><circle cx="793.4" cy="271.2" r="3.3"/><circle cx="795.1" cy="275.8" r="3.3"/><circle cx="796.8" cy="276.5" r="3.3"/><circle cx="798.5" cy="275.4" r="3.3"/><circle cx="800.3" cy="269.9" r="3.3"/><circle cx="802.0" cy="271.8" r="3.3"/><circle cx="803.7" cy="273.8" r="3.3"/><circle cx="805.5" cy="271.3" r="3.3"/><circle cx="807.2" cy="274.0" r="3.3"/><circle cx="808.9" cy="270.7" r="3.3"/><circle cx="810.6" cy="275.1" r="3.3"/><circle cx="812.4" cy="276.4" r="3.3"/><circle cx="814.1" cy="274.2" r="3.3"/><circle cx="815.8" cy="271.8" r="3.3"/><circle cx="817.5" cy="272.5" r="3.3"/><circle cx="819.3" cy="273.6" r="3.3"/><circle cx="821.0" cy="278.8" r="3.3"/><circle cx="822.7" cy="278.4" r="3.3"/><circle cx="824.4" cy="276.6" r="3.3"/><circle cx="826.2" cy="275.8" r="3.3"/><circle cx="827.9" cy="272.9" r="3.3"/><circle cx="829.6" cy="273.9" r="3.3"/><circle cx="831.3" cy="271.7" r="3.3"/><circle cx="833.1" cy="272.4" r="3.3"/><circle cx="834.8" cy="273.6" r="3.3"/><circle cx="836.5" cy="273.1" r="3.3"/><circle cx="838.2" cy="270.9" r="3.3"/><circle cx="840.0" cy="267.8" r="3.3"/><circle cx="841.7" cy="261.9" r="3.3"/><circle cx="843.4" cy="273.8" r="3.3"/><circle cx="845.2" cy="279.0" r="3.3"/><circle cx="846.9" cy="264.7" r="3.3"/><circle cx="848.6" cy="258.9" r="3.3"/><circle cx="850.3" cy="252.9" r="3.3"/><circle cx="852.1" cy="265.1" r="3.3"/><circle cx="853.8" cy="271.8" r="3.3"/><circle cx="855.5" cy="265.3" r="3.3"/><circle cx="857.2" cy="255.8" r="3.3"/><circle cx="859.0" cy="269.2" r="3.3"/><circle cx="860.7" cy="253.4" r="3.3"/><circle cx="862.4" cy="259.8" r="3.3"/><circle cx="864.1" cy="250.1" r="3.3"/><circle cx="865.9" cy="265.9" r="3.3"/><circle cx="867.6" cy="252.1" r="3.3"/><circle cx="869.3" cy="257.0" r="3.3"/><circle cx="871.0" cy="255.2" r="3.3"/><circle cx="872.8" cy="248.9" r="3.3"/><circle cx="874.5" cy="249.7" r="3.3"/><circle cx="876.2" cy="252.1" r="3.3"/><circle cx="877.9" cy="245.2" r="3.3"/><circle cx="879.7" cy="253.7" r="3.3"/><circle cx="881.4" cy="263.4" r="3.3"/><circle cx="883.1" cy="261.9" r="3.3"/><circle cx="884.8" cy="259.0" r="3.3"/><circle cx="886.6" cy="221.3" r="3.3"/><circle cx="888.3" cy="245.2" r="3.3"/><circle cx="890.0" cy="248.9" r="3.3"/><circle cx="891.8" cy="237.9" r="3.3"/><circle cx="893.5" cy="208.3" r="3.3"/><circle cx="895.2" cy="212.4" r="3.3"/><circle cx="896.9" cy="221.3" r="3.3"/><circle cx="898.7" cy="218.4" r="3.3"/><circle cx="900.4" cy="216.4" r="3.3"/><circle cx="902.1" cy="208.3" r="3.3"/><circle cx="903.8" cy="191.7" r="3.3"/><circle cx="905.6" cy="200.6" r="3.3"/><circle cx="907.3" cy="155.9" r="3.3"/><circle cx="909.0" cy="226.6" r="3.3"/></g>
<text x="36.5" y="409.5" font-size="28" text-anchor="start" font-family="Liberation Serif, Times New Roman, serif" stroke="#000" stroke-width="0.2" font-weight="bold" >c</text>
<text x="249.5" y="421.2" font-size="16.8" text-anchor="middle" font-family="Liberation Sans, Arial, sans-serif" font-weight="bold" stroke="#000" stroke-width="0.35" >R051 IVGTT</text>
<path d="M67.9 447.6V692.5M66.6 691.2H431.9" stroke="#0a0a0a" stroke-width="2.6" fill="none"/>
<path d="M67.8 691.2v7.0M188.8 691.2v7.0M309.8 691.2v7.0M430.8 691.2v7.0M67.9 691.2h-7.0M67.9 610.4h-7.0M67.9 529.7h-7.0M67.9 448.9h-7.0" stroke="#0a0a0a" stroke-width="2.5" fill="none"/>
<text x="67.8" y="718.4" font-size="18.2" text-anchor="middle" font-family="Liberation Sans, Arial, sans-serif" font-weight="bold" stroke="#000" stroke-width="0.35" letter-spacing="0">0</text>
<text x="188.8" y="718.4" font-size="18.2" text-anchor="middle" font-family="Liberation Sans, Arial, sans-serif" font-weight="bold" stroke="#000" stroke-width="0.35" letter-spacing="0">50</text>
<text x="309.8" y="718.4" font-size="18.2" text-anchor="middle" font-family="Liberation Sans, Arial, sans-serif" font-weight="bold" stroke="#000" stroke-width="0.35" letter-spacing="0">100</text>
<text x="430.8" y="718.4" font-size="18.2" text-anchor="middle" font-family="Liberation Sans, Arial, sans-serif" font-weight="bold" stroke="#000" stroke-width="0.35" letter-spacing="0">150</text>
<text x="58.9" y="697.6" font-size="18.2" text-anchor="end" font-family="Liberation Sans, Arial, sans-serif" font-weight="bold" stroke="#000" stroke-width="0.35" letter-spacing="0">0</text>
<text x="58.9" y="616.8" font-size="18.2" text-anchor="end" font-family="Liberation Sans, Arial, sans-serif" font-weight="bold" stroke="#000" stroke-width="0.35" letter-spacing="0">200</text>
<text x="58.9" y="536.1" font-size="18.2" text-anchor="end" font-family="Liberation Sans, Arial, sans-serif" font-weight="bold" stroke="#000" stroke-width="0.35" letter-spacing="0">400</text>
<text x="58.9" y="455.3" font-size="18.2" text-anchor="end" font-family="Liberation Sans, Arial, sans-serif" font-weight="bold" stroke="#000" stroke-width="0.35" letter-spacing="0">600</text>
<text transform="translate(18.4,570.0) rotate(-90)" font-size="16.8" text-anchor="middle" font-family="Liberation Sans, Arial, sans-serif" font-weight="bold" stroke="#000" stroke-width="0.35" textLength="242" lengthAdjust="spacing">Blood glucose levels (mg/dl)</text>
<text x="249.7" y="744.1" font-size="19.5" text-anchor="middle" font-family="Liberation Sans, Arial, sans-serif" font-weight="bold" stroke="#000" stroke-width="0.35" textLength="91.5" lengthAdjust="spacing" >Time(min)</text>
<polyline points="67.8,602.4 72.6,531.7 79.9,526.9 104.1,533.3 140.4,536.1 213.0,549.5 285.6,552.3 358.2,554.9" fill="none" stroke="#9b9ba0" stroke-width="2.3" stroke-linejoin="round"/>
<circle cx="67.8" cy="602.4" r="4.8" fill="#9b9ba0"/><circle cx="72.6" cy="531.7" r="4.8" fill="#9b9ba0"/><circle cx="79.9" cy="526.9" r="4.8" fill="#9b9ba0"/><circle cx="104.1" cy="533.3" r="4.8" fill="#9b9ba0"/><circle cx="140.4" cy="536.1" r="4.8" fill="#9b9ba0"/><circle cx="213.0" cy="549.5" r="4.8" fill="#9b9ba0"/><circle cx="285.6" cy="552.3" r="4.8" fill="#9b9ba0"/><circle cx="358.2" cy="554.9" r="4.8" fill="#9b9ba0"/>
<polyline points="67.8,646.8 72.6,537.8 79.9,557.1 104.1,587.0 140.4,622.2 213.0,651.6 285.6,658.3 358.2,660.5" fill="none" stroke="#000" stroke-width="2.3" stroke-linejoin="round"/>
<circle cx="67.8" cy="646.8" r="4.8" fill="#000"/><circle cx="72.6" cy="537.8" r="4.8" fill="#000"/><circle cx="79.9" cy="557.1" r="4.8" fill="#000"/><circle cx="104.1" cy="587.0" r="4.8" fill="#000"/><circle cx="140.4" cy="622.2" r="4.8" fill="#000"/><circle cx="213.0" cy="651.6" r="4.8" fill="#000"/><circle cx="285.6" cy="658.3" r="4.8" fill="#000"/><circle cx="358.2" cy="660.5" r="4.8" fill="#000"/>
<polyline points="67.8,646.8 72.6,570.1 79.9,577.7 104.1,593.1 140.4,609.2 213.0,638.5 285.6,652.4 358.2,658.9" fill="none" stroke="#8080ff" stroke-width="2.3" stroke-linejoin="round"/>
<path d="M67.8 641.4L73.0 651.0H62.6Z" fill="#9494ff"/><path d="M72.6 564.7L77.8 574.3H67.4Z" fill="#9494ff"/><path d="M79.9 572.4L85.1 582.0H74.7Z" fill="#9494ff"/><path d="M104.1 587.7L109.3 597.3H98.9Z" fill="#9494ff"/><path d="M140.4 603.9L145.6 613.5H135.2Z" fill="#9494ff"/><path d="M213.0 633.1L218.2 642.7H207.8Z" fill="#9494ff"/><path d="M285.6 647.1L290.8 656.7H280.4Z" fill="#9494ff"/><path d="M358.2 653.5L363.4 663.1H353.0Z" fill="#9494ff"/>
<polyline points="67.8,646.8 72.6,557.9 79.9,568.4 104.1,586.2 140.4,604.4 213.0,631.0 285.6,648.0 358.2,656.9" fill="none" stroke="#3d3dff" stroke-width="2.3" stroke-linejoin="round"/>
<path d="M67.8 641.4L73.0 651.0H62.6Z" fill="#5555f2"/><path d="M72.6 552.6L77.8 562.2H67.4Z" fill="#5555f2"/><path d="M79.9 563.1L85.1 572.7H74.7Z" fill="#5555f2"/><path d="M104.1 580.8L109.3 590.4H98.9Z" fill="#5555f2"/><path d="M140.4 599.0L145.6 608.6H135.2Z" fill="#5555f2"/><path d="M213.0 625.7L218.2 635.3H207.8Z" fill="#5555f2"/><path d="M285.6 642.6L290.8 652.2H280.4Z" fill="#5555f2"/><path d="M358.2 651.5L363.4 661.1H353.0Z" fill="#5555f2"/>
<polyline points="67.8,633.1 72.6,526.0 79.9,540.2 104.1,557.5 140.4,574.5 213.0,603.6 285.6,625.1 358.2,640.3" fill="none" stroke="#0000ff" stroke-width="2.3" stroke-linejoin="round"/>
<path d="M67.8 627.7L73.0 637.3H62.6Z" fill="#0000ff"/><path d="M72.6 520.7L77.8 530.3H67.4Z" fill="#0000ff"/><path d="M79.9 534.8L85.1 544.4H74.7Z" fill="#0000ff"/><path d="M104.1 552.2L109.3 561.8H98.9Z" fill="#0000ff"/><path d="M140.4 569.1L145.6 578.7H135.2Z" fill="#0000ff"/><path d="M213.0 598.2L218.2 607.8H207.8Z" fill="#0000ff"/><path d="M285.6 619.8L290.8 629.4H280.4Z" fill="#0000ff"/><path d="M358.2 634.9L363.4 644.5H353.0Z" fill="#0000ff"/>
<polyline points="67.8,646.8 72.6,528.9 79.9,539.8 104.1,566.4 140.4,591.1 213.0,624.4 285.6,644.4 358.2,653.6" fill="none" stroke="#0000b4" stroke-width="2.3" stroke-linejoin="round"/>
<path d="M67.8 641.4L73.0 651.0H62.6Z" fill="#0000b4"/><path d="M72.6 523.5L77.8 533.1H67.4Z" fill="#0000b4"/><path d="M79.9 534.4L85.1 544.0H74.7Z" fill="#0000b4"/><path d="M104.1 561.0L109.3 570.6H98.9Z" fill="#0000b4"/><path d="M140.4 585.7L145.6 595.3H135.2Z" fill="#0000b4"/><path d="M213.0 619.0L218.2 628.6H207.8Z" fill="#0000b4"/><path d="M285.6 639.0L290.8 648.6H280.4Z" fill="#0000b4"/><path d="M358.2 648.3L363.4 657.9H353.0Z" fill="#0000b4"/>
<line x1="375.9" y1="422.4" x2="400.7" y2="422.4" stroke="#000" stroke-width="2.3"/>
<circle cx="388.3" cy="422.4" r="4.8" fill="#000"/>
<text x="416.6" y="428.6" font-size="16.2" text-anchor="start" font-family="Liberation Sans, Arial, sans-serif" font-weight="bold" stroke="#000" stroke-width="0.35" textLength="66.7" lengthAdjust="spacing" >Non-DM</text>
<line x1="375.9" y1="441.5" x2="400.7" y2="441.5" stroke="#9b9ba0" stroke-width="2.3"/>
<circle cx="388.3" cy="441.5" r="4.8" fill="#9b9ba0"/>
<text x="416.6" y="447.7" font-size="16.2" text-anchor="start" font-family="Liberation Sans, Arial, sans-serif" font-weight="bold" stroke="#000" stroke-width="0.35" textLength="26.5" lengthAdjust="spacing" >DM</text>
<line x1="375.9" y1="461.3" x2="400.7" y2="461.3" stroke="#8080ff" stroke-width="2.3"/>
<path d="M388.3 455.9L393.5 465.5H383.1Z" fill="#9494ff"/>
<text x="416.6" y="467.5" font-size="16.2" text-anchor="start" font-family="Liberation Sans, Arial, sans-serif" font-weight="bold" stroke="#000" stroke-width="0.35" textLength="40" lengthAdjust="spacing" >D+29</text>
<line x1="375.9" y1="481.7" x2="400.7" y2="481.7" stroke="#3d3dff" stroke-width="2.3"/>
<path d="M388.3 476.3L393.5 485.9H383.1Z" fill="#5555f2"/>
<text x="416.6" y="487.9" font-size="16.2" text-anchor="start" font-family="Liberation Sans, Arial, sans-serif" font-weight="bold" stroke="#000" stroke-width="0.35" textLength="40" lengthAdjust="spacing" >D+62</text>
<line x1="375.9" y1="503.2" x2="400.7" y2="503.2" stroke="#0000ff" stroke-width="2.3"/>
<path d="M388.3 497.8L393.5 507.4H383.1Z" fill="#0000ff"/>
<text x="416.6" y="509.4" font-size="16.2" text-anchor="start" font-family="Liberation Sans, Arial, sans-serif" font-weight="bold" stroke="#000" stroke-width="0.35" textLength="49.5" lengthAdjust="spacing" >D+120</text>
<line x1="375.9" y1="521.9" x2="400.7" y2="521.9" stroke="#0000b4" stroke-width="2.3"/>
<path d="M388.3 516.5L393.5 526.1H383.1Z" fill="#0000b4"/>
<text x="416.6" y="528.1" font-size="16.2" text-anchor="start" font-family="Liberation Sans, Arial, sans-serif" font-weight="bold" stroke="#000" stroke-width="0.35" textLength="49.5" lengthAdjust="spacing" >D+180</text>
<text x="550.0" y="410.3" font-size="28" text-anchor="start" font-family="Liberation Serif, Times New Roman, serif" stroke="#000" stroke-width="0.2" font-weight="bold" >d</text>
<text x="762.4" y="421.8" font-size="17.4" text-anchor="middle" font-family="Liberation Sans, Arial, sans-serif" font-weight="bold" stroke="#000" stroke-width="0.35" textLength="84" lengthAdjust="spacing" >R080 ivgtt</text>
<path d="M580.4 447.6V692.5M579.1 691.2H944.9" stroke="#0a0a0a" stroke-width="2.6" fill="none"/>
<path d="M580.5 691.2v7.0M701.5 691.2v7.0M822.6 691.2v7.0M943.6 691.2v7.0M580.4 691.2h-7.0M580.4 610.4h-7.0M580.4 529.7h-7.0M580.4 448.9h-7.0" stroke="#0a0a0a" stroke-width="2.5" fill="none"/>
<text x="580.5" y="718.4" font-size="18.2" text-anchor="middle" font-family="Liberation Sans, Arial, sans-serif" font-weight="bold" stroke="#000" stroke-width="0.35" letter-spacing="0">0</text>
<text x="701.5" y="718.4" font-size="18.2" text-anchor="middle" font-family="Liberation Sans, Arial, sans-serif" font-weight="bold" stroke="#000" stroke-width="0.35" letter-spacing="0">50</text>
<text x="822.6" y="718.4" font-size="18.2" text-anchor="middle" font-family="Liberation Sans, Arial, sans-serif" font-weight="bold" stroke="#000" stroke-width="0.35" letter-spacing="0">100</text>
<text x="943.6" y="718.4" font-size="18.2" text-anchor="middle" font-family="Liberation Sans, Arial, sans-serif" font-weight="bold" stroke="#000" stroke-width="0.35" letter-spacing="0">150</text>
<text x="571.8" y="697.6" font-size="18.2" text-anchor="end" font-family="Liberation Sans, Arial, sans-serif" font-weight="bold" stroke="#000" stroke-width="0.35" letter-spacing="0">0</text>
<text x="571.8" y="616.8" font-size="18.2" text-anchor="end" font-family="Liberation Sans, Arial, sans-serif" font-weight="bold" stroke="#000" stroke-width="0.35" letter-spacing="0">200</text>
<text x="571.8" y="536.1" font-size="18.2" text-anchor="end" font-family="Liberation Sans, Arial, sans-serif" font-weight="bold" stroke="#000" stroke-width="0.35" letter-spacing="0">400</text>
<text x="571.8" y="455.3" font-size="18.2" text-anchor="end" font-family="Liberation Sans, Arial, sans-serif" font-weight="bold" stroke="#000" stroke-width="0.35" letter-spacing="0">600</text>
<text transform="translate(531.0,570.0) rotate(-90)" font-size="16.8" text-anchor="middle" font-family="Liberation Sans, Arial, sans-serif" font-weight="bold" stroke="#000" stroke-width="0.35" textLength="242" lengthAdjust="spacing">Blood glucose levels (mg/dl)</text>
<text x="762.5" y="744.1" font-size="19.5" text-anchor="middle" font-family="Liberation Sans, Arial, sans-serif" font-weight="bold" stroke="#000" stroke-width="0.35" textLength="91.5" lengthAdjust="spacing" >Time(min)</text>
<polyline points="580.5,530.9 585.3,464.3 592.6,464.3 616.8,482.0 653.1,501.8 725.8,539.4 798.4,542.6 871.0,562.0" fill="none" stroke="#9b9ba0" stroke-width="2.3" stroke-linejoin="round"/>
<circle cx="580.5" cy="530.9" r="4.8" fill="#9b9ba0"/><circle cx="585.3" cy="464.3" r="4.8" fill="#9b9ba0"/><circle cx="592.6" cy="464.3" r="4.8" fill="#9b9ba0"/><circle cx="616.8" cy="482.0" r="4.8" fill="#9b9ba0"/><circle cx="653.1" cy="501.8" r="4.8" fill="#9b9ba0"/><circle cx="725.8" cy="539.4" r="4.8" fill="#9b9ba0"/><circle cx="798.4" cy="542.6" r="4.8" fill="#9b9ba0"/><circle cx="871.0" cy="562.0" r="4.8" fill="#9b9ba0"/>
<polyline points="580.5,650.8 585.3,590.2 592.6,594.3 616.8,628.2 653.1,660.6 725.8,661.9 798.4,661.5 871.0,661.5" fill="none" stroke="#000" stroke-width="2.3" stroke-linejoin="round"/>
<circle cx="580.5" cy="650.8" r="4.8" fill="#000"/><circle cx="585.3" cy="590.2" r="4.8" fill="#000"/><circle cx="592.6" cy="594.3" r="4.8" fill="#000"/><circle cx="616.8" cy="628.2" r="4.8" fill="#000"/><circle cx="653.1" cy="660.6" r="4.8" fill="#000"/><circle cx="725.8" cy="661.9" r="4.8" fill="#000"/><circle cx="798.4" cy="661.5" r="4.8" fill="#000"/><circle cx="871.0" cy="661.5" r="4.8" fill="#000"/>
<polyline points="580.5,648.8 585.3,574.1 592.6,591.9 616.8,604.5 653.1,648.0 725.8,644.5 798.4,644.5 871.0,646.5" fill="none" stroke="#8c8cff" stroke-width="2.3" stroke-linejoin="round"/>
<rect x="575.8" y="644.1" width="9.4" height="9.4" fill="#9a9aff"/><rect x="580.6" y="569.4" width="9.4" height="9.4" fill="#9a9aff"/><rect x="587.9" y="587.2" width="9.4" height="9.4" fill="#9a9aff"/><rect x="612.1" y="599.8" width="9.4" height="9.4" fill="#9a9aff"/><rect x="648.4" y="643.3" width="9.4" height="9.4" fill="#9a9aff"/><rect x="721.1" y="639.8" width="9.4" height="9.4" fill="#9a9aff"/><rect x="793.7" y="639.8" width="9.4" height="9.4" fill="#9a9aff"/><rect x="866.3" y="641.8" width="9.4" height="9.4" fill="#9a9aff"/>
<polyline points="580.5,650.8 585.3,569.3 592.6,575.7 616.8,603.6 653.1,622.3 725.8,636.7 798.4,634.7 871.0,636.7" fill="none" stroke="#3d3dff" stroke-width="2.3" stroke-linejoin="round"/>
<path d="M580.5 645.4L585.7 655.0H575.3Z" fill="#5555f2"/><path d="M585.3 563.9L590.5 573.5H580.1Z" fill="#5555f2"/><path d="M592.6 570.3L597.8 579.9H587.4Z" fill="#5555f2"/><path d="M616.8 598.2L622.0 607.8H611.6Z" fill="#5555f2"/><path d="M653.1 616.9L658.3 626.5H647.9Z" fill="#5555f2"/><path d="M725.8 631.3L731.0 640.9H720.6Z" fill="#5555f2"/><path d="M798.4 629.3L803.6 638.9H793.2Z" fill="#5555f2"/><path d="M871.0 631.3L876.2 640.9H865.8Z" fill="#5555f2"/>
<polyline points="580.5,652.0 585.3,586.2 592.6,584.2 616.8,613.3 653.1,639.1 725.8,651.6 798.4,656.9 871.0,654.9" fill="none" stroke="#0000c0" stroke-width="2.3" stroke-linejoin="round"/>
<path d="M580.5 646.7L585.7 656.3H575.3Z" fill="#0000c0"/><path d="M585.3 580.8L590.5 590.4H580.1Z" fill="#0000c0"/><path d="M592.6 578.8L597.8 588.4H587.4Z" fill="#0000c0"/><path d="M616.8 607.9L622.0 617.5H611.6Z" fill="#0000c0"/><path d="M653.1 633.7L658.3 643.3H647.9Z" fill="#0000c0"/><path d="M725.8 646.3L731.0 655.9H720.6Z" fill="#0000c0"/><path d="M798.4 651.5L803.6 661.1H793.2Z" fill="#0000c0"/><path d="M871.0 649.5L876.2 659.1H865.8Z" fill="#0000c0"/>
<path d="M617.0 610.5V531.7M611.5 540.7L617.0 531.7L622.5 540.7" fill="none" stroke="#4a86c4" stroke-width="1.2"/>
<path d="M653.3 634.0V541.6M647.8 550.6L653.3 541.6L658.8 550.6" fill="none" stroke="#4a86c4" stroke-width="1.2"/>
<path d="M727.7 640.0V564.6M722.2 573.6L727.7 564.6L733.2 573.6" fill="none" stroke="#4a86c4" stroke-width="1.2"/>
<path d="M797.3 654.0V570.6M791.8 579.6L797.3 570.6L802.8 579.6" fill="none" stroke="#4a86c4" stroke-width="1.2"/>
<path d="M873.5 651.0V587.0M868.0 596.0L873.5 587.0L879.0 596.0" fill="none" stroke="#4a86c4" stroke-width="1.2"/>
<polyline points="580.5,587.4 585.3,507.5 592.6,519.6 616.8,521.6 653.1,531.7 725.8,555.1 798.4,564.0 871.0,576.7" fill="none" stroke="#ff0000" stroke-width="2.3" stroke-linejoin="round"/>
<path d="M580.5 582.0L585.7 591.6H575.3Z" fill="#ff0000"/><path d="M585.3 502.1L590.5 511.7H580.1Z" fill="#ff0000"/><path d="M592.6 514.2L597.8 523.8H587.4Z" fill="#ff0000"/><path d="M616.8 516.2L622.0 525.8H611.6Z" fill="#ff0000"/><path d="M653.1 526.3L658.3 535.9H647.9Z" fill="#ff0000"/><path d="M725.8 549.7L731.0 559.3H720.6Z" fill="#ff0000"/><path d="M798.4 558.6L803.6 568.2H793.2Z" fill="#ff0000"/><path d="M871.0 571.3L876.2 580.9H865.8Z" fill="#ff0000"/>
<line x1="877.7" y1="438.4" x2="903.1" y2="438.4" stroke="#000" stroke-width="2.3"/>
<circle cx="890.4" cy="438.4" r="4.8" fill="#000"/>
<text x="919.0" y="444.6" font-size="16.2" text-anchor="start" font-family="Liberation Sans, Arial, sans-serif" font-weight="bold" stroke="#000" stroke-width="0.35" textLength="66.5" lengthAdjust="spacing" >Non-DM</text>
<line x1="877.7" y1="459.9" x2="903.1" y2="459.9" stroke="#9b9ba0" stroke-width="2.3"/>
<circle cx="890.4" cy="459.9" r="4.8" fill="#9b9ba0"/>
<text x="919.0" y="466.1" font-size="16.2" text-anchor="start" font-family="Liberation Sans, Arial, sans-serif" font-weight="bold" stroke="#000" stroke-width="0.35" textLength="27.2" lengthAdjust="spacing" >DM</text>
<line x1="877.7" y1="483.7" x2="903.1" y2="483.7" stroke="#8c8cff" stroke-width="2.3"/>
<rect x="885.7" y="479.0" width="9.4" height="9.4" fill="#9a9aff"/>
<text x="919.0" y="489.9" font-size="16.2" text-anchor="start" font-family="Liberation Sans, Arial, sans-serif" font-weight="bold" stroke="#000" stroke-width="0.35" textLength="40.2" lengthAdjust="spacing" >D+34</text>
<line x1="877.7" y1="506" x2="903.1" y2="506" stroke="#3d3dff" stroke-width="2.3"/>
<path d="M890.4 500.6L895.6 510.2H885.2Z" fill="#5555f2"/>
<text x="919.0" y="512.2" font-size="16.2" text-anchor="start" font-family="Liberation Sans, Arial, sans-serif" font-weight="bold" stroke="#000" stroke-width="0.35" textLength="39" lengthAdjust="spacing" >D+61</text>
<line x1="877.7" y1="529.8" x2="903.1" y2="529.8" stroke="#0000c0" stroke-width="2.3"/>
<path d="M890.4 524.4L895.6 534.0H885.2Z" fill="#0000c0"/>
<text x="919.0" y="536.0" font-size="16.2" text-anchor="start" font-family="Liberation Sans, Arial, sans-serif" font-weight="bold" stroke="#000" stroke-width="0.35" textLength="49.2" lengthAdjust="spacing" >D+120</text>
<line x1="877.7" y1="554.8" x2="903.1" y2="554.8" stroke="#ff0000" stroke-width="2.3"/>
<path d="M890.4 549.4L895.6 559.0H885.2Z" fill="#ff0000"/>
<text x="919.0" y="561.0" font-size="16.2" text-anchor="start" font-family="Liberation Sans, Arial, sans-serif" font-weight="bold" stroke="#000" stroke-width="0.35" textLength="49.2" lengthAdjust="spacing" >D+180</text>
<text x="1006.2" y="145.6" font-size="28" text-anchor="start" font-family="Liberation Serif, Times New Roman, serif" stroke="#000" stroke-width="0.2" font-weight="bold" >e</text>
<defs><linearGradient id="g" x1="0" x2="1" y1="0" y2="0"><stop offset="0" stop-color="#e6ecf8"/><stop offset="0.49" stop-color="#7f7f7f"/><stop offset="1" stop-color="#7f7f7f"/></linearGradient></defs>
<path d="M1026 464H1872V453L1894.5 475.2L1872 497.5V486.5H1026Z" fill="url(#g)"/>
<path d="M1043.3 210.2H1047.2V237.0H1051.7L1045.3 248.0L1038.9 237.0H1043.3Z" fill="#c00000"/>
<text x="1079.0" y="234.2" font-size="17.3" text-anchor="start" font-family="Liberation Serif, Times New Roman, serif" stroke="#000" stroke-width="0.2" >RNA seq</text>
<text x="1027.0" y="335.1" font-size="16.9" text-anchor="start" font-family="Liberation Serif, Times New Roman, serif" stroke="#000" stroke-width="0.2" font-weight="bold" >R080 (case)</text>
<text x="1017.7" y="596.9" font-size="17" text-anchor="start" font-family="Liberation Serif, Times New Roman, serif" stroke="#000" stroke-width="0.2" font-weight="bold" >R051 (control)</text>
<text x="1050.0" y="409.0" font-size="17.3" font-family="Liberation Serif, Times New Roman, serif" stroke="#000" stroke-width="0.2">t<tspan font-size="11.5" dy="3.8">1</tspan><tspan dy="-3.8">: D-13</tspan></text>
<text x="1063.4" y="544.5" font-size="17.3" font-family="Liberation Serif, Times New Roman, serif" stroke="#000" stroke-width="0.2">t<tspan font-size="11.5" dy="3.8">1</tspan><tspan dy="-3.8">: D-8</tspan></text>
<text x="1199.5" y="544.5" font-size="17.3" font-family="Liberation Serif, Times New Roman, serif" stroke="#000" stroke-width="0.2">t<tspan font-size="11.5" dy="3.8">2</tspan><tspan dy="-3.8">: D+27</tspan></text>
<text x="1657.3" y="408.8" font-size="17.3" font-family="Liberation Serif, Times New Roman, serif" stroke="#000" stroke-width="0.2">t<tspan font-size="11.5" dy="3.8">3</tspan><tspan dy="-3.8">: D+168</tspan></text>
<text x="1780.8" y="408.8" font-size="17.3" font-family="Liberation Serif, Times New Roman, serif" stroke="#000" stroke-width="0.2">t<tspan font-size="11.5" dy="3.8">4</tspan><tspan dy="-3.8">: D+205</tspan></text>
<text x="1657.3" y="544.2" font-size="17.3" font-family="Liberation Serif, Times New Roman, serif" stroke="#000" stroke-width="0.2">t<tspan font-size="11.5" dy="3.8">3</tspan><tspan dy="-3.8">: D+166</tspan></text>
<text x="1824.0" y="544.2" font-size="17.3" font-family="Liberation Serif, Times New Roman, serif" stroke="#000" stroke-width="0.2">t<tspan font-size="11.5" dy="3.8">4</tspan><tspan dy="-3.8">: D+221</tspan></text>
<path d="M1047.0 426.0H1051.0V453.0H1055.4L1049.0 464.0L1042.6 453.0H1047.0Z" fill="#c00000"/>
<path d="M1198.2 426.0H1202.2V453.0H1206.6L1200.2 464.0L1193.8 453.0H1198.2Z" fill="#c00000"/>
<path d="M1656.3 426.4H1660.2V453.0H1664.7L1658.3 464.0L1651.9 453.0H1656.3Z" fill="#c00000"/>
<path d="M1784.1 426.4H1788.0V453.0H1792.5L1786.1 464.0L1779.7 453.0H1784.1Z" fill="#c00000"/>
<path d="M1062.0 520.3H1066.0V497.6H1070.4L1064.0 486.6L1057.6 497.6H1062.0Z" fill="#c00000"/>
<path d="M1198.0 520.3H1202.0V497.6H1206.4L1200.0 486.6L1193.6 497.6H1198.0Z" fill="#c00000"/>
<path d="M1654.1 520.3H1658.0V497.8H1662.5L1656.1 486.8L1649.7 497.8H1654.1Z" fill="#c00000"/>
<path d="M1820.3 520.3H1824.2V497.8H1828.7L1822.3 486.8L1815.9 497.8H1820.3Z" fill="#c00000"/>
<text x="1645.2" y="278.3" font-size="17" text-anchor="middle" font-family="Liberation Serif, Times New Roman, serif" stroke="#000" stroke-width="0.2" font-weight="bold" >Islet Loss (IVGTT)</text>
<path d="M1534 316V301Q1534 295.2 1540 295.2H1748.4Q1754.4 295.2 1754.4 301V316" fill="none" stroke="#ea6b0c" stroke-width="3.7"/>
<text x="1509.8" y="332.5" font-size="17.3" text-anchor="start" font-family="Liberation Serif, Times New Roman, serif" stroke="#000" stroke-width="0.2" >D+120</text>
<text x="1729.7" y="332.5" font-size="17.3" text-anchor="start" font-family="Liberation Serif, Times New Roman, serif" stroke="#000" stroke-width="0.2" >D+180</text>
<path d="M1532.3 347.0H1535.7V453.0H1540.4L1534.0 464.0L1527.6 453.0H1532.3Z" fill="#ea6b0c"/>
<path d="M1752.7 347.0H1756.1V453.0H1760.8L1754.4 464.0L1748.0 453.0H1752.7Z" fill="#ea6b0c"/>
</svg></body></html>
